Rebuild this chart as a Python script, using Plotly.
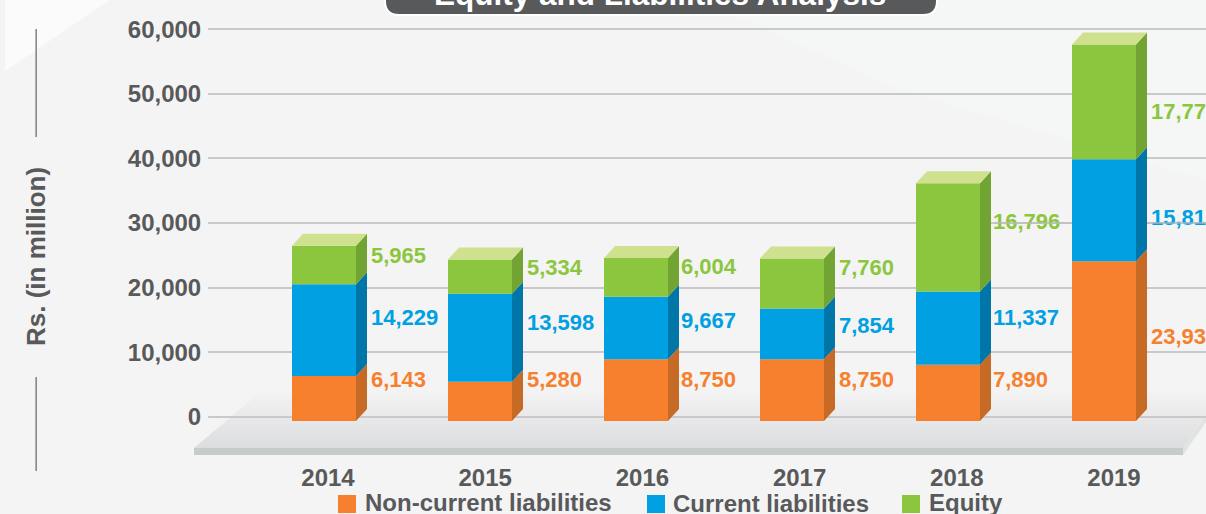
import plotly.graph_objects as go

years = ["2014", "2015", "2016", "2017", "2018", "2019"]
non_current = [6143, 5280, 8750, 8750, 7890, 23930]
current = [14229, 13598, 9667, 7854, 11337, 15810]
equity = [5965, 5334, 6004, 7760, 16796, 17770]
non_current_text = ["6,143", "5,280", "8,750", "8,750", "7,890", "23,93"]
current_text = ["14,229", "13,598", "9,667", "7,854", "11,337", "15,81"]
equity_text = ["5,965", "5,334", "6,004", "7,760", "16,796", "17,77"]
y_ticks = [0, 10000, 20000, 30000, 40000, 50000, 60000]

# ---- layout geometry (pixels of the 1206x514 page) ----
W, H = 1206, 514
PL, PT, PB = 208, 25, 452
Y0_PX = 416.7
PX_PER_UNIT = 64.57 / 10000
X0_PX, STEP = 324, 156
BAR_W = 64
DX, DY = 11, 12
BASE_VAL = -680
LIFT = 150

def val(py):
    return (Y0_PX - py) / PX_PER_UNIT
def xu(px):
    return (px - X0_PX) / STEP
def pxx(px):
    return (px - PL) / (W - PL)
def pxy(py):
    return (PB - py) / (PB - PT)

ORANGE, BLUE, GREEN = "#f6802e", "#00a0e3", "#8cc63f"
ORANGE_S, BLUE_S, GREEN_S = "#c76a25", "#0076a8", "#72a433"
TOP = "#cfe18f"
TXT = "#58595b"
FONT = "Liberation Sans"

fig = go.Figure()
xs = list(range(len(years)))
bw = BAR_W / STEP
dxu, dyv = DX / STEP, DY / PX_PER_UNIT

bottoms = [BASE_VAL] * 6
o_top = [n + LIFT for n in non_current]
b_top = [o + c for o, c in zip(o_top, current)]
g_top = [b + e for b, e in zip(b_top, equity)]

def side(low, high, color):
    X, Y = [], []
    for i, (a, b) in enumerate(zip(low, high)):
        r = i + bw / 2
        X += [r, r + dxu, r + dxu, r, r, None]
        Y += [a, a + dyv, b + dyv, b, a, None]
    fig.add_trace(go.Scatter(x=X, y=Y, mode="lines", line=dict(width=0), fill="toself",
                             fillcolor=color, hoverinfo="skip", showlegend=False))

side(bottoms, o_top, ORANGE_S)
side(o_top, b_top, BLUE_S)
side(b_top, g_top, GREEN_S)

X, Y = [], []
for i, t in enumerate(g_top):
    l, r = i - bw / 2, i + bw / 2
    X += [l, l + dxu, r + dxu, r, l, None]
    Y += [t, t + dyv, t + dyv, t, t, None]
fig.add_trace(go.Scatter(x=X, y=Y, mode="lines", line=dict(width=0), fill="toself",
                         fillcolor=TOP, hoverinfo="skip", showlegend=False))

for name, low, high, col in [("Non-current liabilities", bottoms, o_top, ORANGE),
                             ("Current liabilities", o_top, b_top, BLUE),
                             ("Equity", b_top, g_top, GREEN)]:
    fig.add_trace(go.Bar(x=xs, y=[h - l for h, l in zip(high, low)], base=low, name=name,
                         width=bw, marker=dict(color=col, line=dict(width=0)), showlegend=False))

# value labels: left edge and centre line, in pixels
label_left = [371, 527, 681, 839, 993, 1151]
nc_label_y = [381, 381, 381, 381, 381, 338]
cu_label_y = [319, 324, 322, 327, 319, 219]
eq_label_y = [257, 269, 268, 269, 223, 113]
for texts, ly, col in [(non_current_text, nc_label_y, ORANGE),
                       (current_text, cu_label_y, BLUE),
                       (equity_text, eq_label_y, GREEN)]:
    fig.add_trace(go.Scatter(x=[xu(p) for p in label_left], y=[val(p) for p in ly], text=texts,
                             mode="text", textposition="middle right",
                             textfont=dict(family=FONT, size=22, color=col, weight="bold"),
                             hoverinfo="skip", showlegend=False))

# the 30,000 grid line runs across the two labels drawn over it
for a, b in [(994, 1072), (1147, 1206)]:
    fig.add_trace(go.Scatter(x=[xu(a), xu(b)], y=[30000, 30000], mode="lines",
                             line=dict(color="rgba(190,190,190,0.8)", width=1.5),
                             hoverinfo="skip", showlegend=False))

shapes = []
def poly(pts, color, layer="below"):
    path = "M " + " L ".join(f"{pxx(x):.5f},{pxy(y):.5f}" for x, y in pts) + " Z"
    shapes.append(dict(type="path", path=path, xref="paper", yref="paper",
                       fillcolor=color, line=dict(width=0), layer=layer))

# background glints
poly([(5, 0), (110, 0), (5, 71)], "#fbfbfb")
poly([(700, 0), (1206, 0), (1206, 180), (900, 90)], "#f5f6f6")

# floor as a stack of thin slabs making a vertical gradient
F_TOP, F_BOT = 388, 448
n = 30
c0, c1 = (244, 244, 244), (220, 221, 223)
for k in range(n):
    a = F_TOP + (F_BOT - F_TOP) * k / n
    b = F_TOP + (F_BOT - F_TOP) * (k + 1) / n + 0.5
    la = 265 - (a - F_TOP) * (265 - 194) / 60
    lb = 265 - (b - F_TOP) * (265 - 194) / 60
    ra = min(1206, 1183 + (F_BOT - a) * 23 / 33)
    rb = min(1206, 1183 + (F_BOT - b) * 23 / 33)
    t = k / (n - 1)
    col = "rgb(%d,%d,%d)" % tuple(round(u + (v - u) * t) for u, v in zip(c0, c1))
    poly([(la, a), (ra, a), (rb, b), (lb, b)], col)
poly([(194, 448), (1183, 448), (1183, 455), (194, 455)], "#c5ccca")
poly([(1183, 448), (1206, 415), (1206, 422), (1183, 455)], "#e1e3e3")

# axis-title rules
for y0, y1 in [(29, 137), (377, 471)]:
    poly([(35.5, y0), (36.8, y0), (36.8, y1), (35.5, y1)], "#6d6e71", "above")

# legend squares
for x0, col in [(338, ORANGE), (647, BLUE), (902, GREEN)]:
    poly([(x0, 495), (x0 + 18, 495), (x0 + 18, 513), (x0, 513)], col, "above")

# title pill
def pill():
    x0, x1, y0, y1, r = 385, 937, -20, 15, 14
    p = (f"M {pxx(x0):.5f},{pxy(y0):.5f} L {pxx(x1):.5f},{pxy(y0):.5f} L {pxx(x1):.5f},{pxy(y1 - r):.5f} "
         f"Q {pxx(x1):.5f},{pxy(y1):.5f} {pxx(x1 - r):.5f},{pxy(y1):.5f} L {pxx(x0 + r):.5f},{pxy(y1):.5f} "
         f"Q {pxx(x0):.5f},{pxy(y1):.5f} {pxx(x0):.5f},{pxy(y1 - r):.5f} Z")
    shapes.append(dict(type="path", path=p, xref="paper", yref="paper", fillcolor=TXT,
                       line=dict(color="white", width=2), layer="above"))
pill()

def note(text, x, y, size, color=TXT, xanchor="left", angle=0):
    return dict(text=text, x=pxx(x), y=pxy(y), xref="paper", yref="paper", showarrow=False,
                xanchor=xanchor, yanchor="middle", textangle=angle,
                font=dict(family=FONT, size=size, color=color, weight="bold"))

annotations = [
    note("Equity and Liabilities Analysis", 660, -6, 31.5, "white", "center"),
    note("Rs. (in million)", 36, 257, 26, TXT, "center", -90),
    note("Non-current liabilities", 363, 503, 24),
    note("Current liabilities", 671, 504, 24),
    note("Equity", 927, 503, 24),
]

tick_x = [xu(328 + 157.2 * i) for i in range(len(years))]
fig.update_layout(
    width=W, height=H, autosize=False,
    margin=dict(l=PL, r=0, t=PT, b=H - PB, pad=0),
    paper_bgcolor="#f4f4f4", plot_bgcolor="rgba(0,0,0,0)",
    barmode="overlay", showlegend=False,
    shapes=shapes, annotations=annotations,
    xaxis=dict(range=[xu(PL), xu(W)], tickvals=tick_x, ticktext=years, showgrid=False, zeroline=False,
               showline=False, ticks="outside", ticklen=4, tickcolor="rgba(0,0,0,0)",
               tickfont=dict(family=FONT, size=24, color=TXT, weight="bold")),
    yaxis=dict(range=[val(PB), val(PT)], tickvals=y_ticks, tickformat=",d", showgrid=True,
               gridcolor="#c9c9c9", gridwidth=2, zeroline=False, showline=False,
               ticks="outside", ticklen=1, tickcolor="rgba(0,0,0,0)",
               tickfont=dict(family=FONT, size=24, color=TXT, weight="bold")),
)
fig.write_html("out.html", config=dict(displayModeBar=False),
               post_script="document.body.style.margin='0';document.body.style.overflow='hidden';")
